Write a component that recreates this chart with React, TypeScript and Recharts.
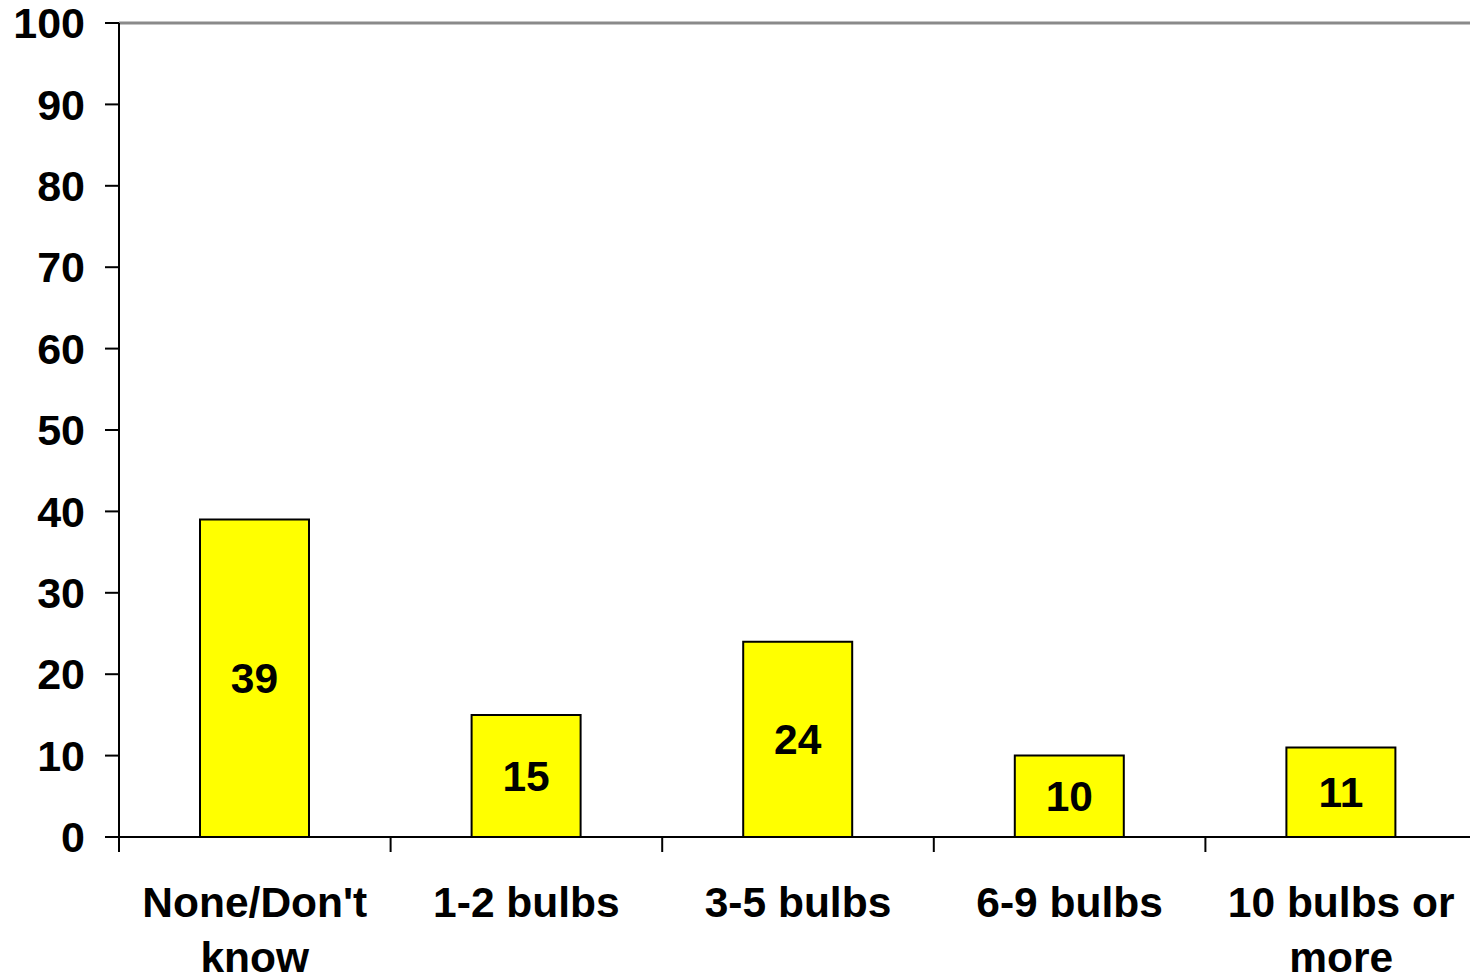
import { BarChart, Bar, XAxis, YAxis, ReferenceLine, LabelList } from 'recharts';

const categories = ["None/Don't know", '1-2 bulbs', '3-5 bulbs', '6-9 bulbs', '10 bulbs or more'];
const percents = [39, 15, 24, 10, 11];
const yTicks = [0, 10, 20, 30, 40, 50, 60, 70, 80, 90, 100];

const data = categories.map((name, i) => ({ name, value: percents[i] }));

const FONT = '"Liberation Sans", Arial, Helvetica, sans-serif';
const CHART_W = 1477;
const Y_AXIS_W = 119;
const HALF_BAND = (CHART_W - Y_AXIS_W) / categories.length / 2;

// greedy word wrap, roughly what the original chart does
const wrap = (text: string, max: number) => {
  const lines: string[] = [];
  let cur = '';
  for (const w of text.split(' ')) {
    const next = cur ? cur + ' ' + w : w;
    if (next.length > max && cur) {
      lines.push(cur);
      cur = w;
    } else {
      cur = next;
    }
  }
  if (cur) lines.push(cur);
  return lines;
};

// ticks sit between the categories, labels in the middle
const CategoryTick = (props: any) => {
  const { x, y, payload, index } = props;
  const lines = wrap(payload.value, 11);
  const isLast = index === categories.length - 1;
  return (
    <g>
      <line x1={x - HALF_BAND} y1={y} x2={x - HALF_BAND} y2={y + 15} stroke="#000" strokeWidth={2} />
      {isLast && <line x1={x + HALF_BAND} y1={y} x2={x + HALF_BAND} y2={y + 15} stroke="#000" strokeWidth={2} />}
      <text
        x={x}
        y={y + 50}
        textAnchor="middle"
        fontFamily={FONT}
        fontWeight="bold"
        fontSize={42.5}
        fill="#000"
      >
        {lines.map((l, i) => (
          <tspan key={i} x={x} dy={i === 0 ? '0.71em' : 55}>
            {l}
          </tspan>
        ))}
      </text>
    </g>
  );
};

const App = () => {
  return (
    <div style={{ position: 'absolute', left: 0, top: 0, width: 1470, height: 977, overflow: 'hidden', background: '#fff' }}>
      <BarChart
        width={CHART_W}
        height={977}
        data={data}
        margin={{ top: 23, right: 0, left: 0, bottom: 0 }}
        barSize={109}
      >
        <ReferenceLine y={100} stroke="#8a8a8a" strokeWidth={3} />
        <XAxis
          dataKey="name"
          height={140}
          stroke="#000"
          strokeWidth={2}
          tickLine={false}
          tickSize={0}
          tickMargin={0}
          tick={<CategoryTick />}
          interval={0}
        />
        <YAxis
          width={Y_AXIS_W}
          domain={[0, 100]}
          ticks={yTicks}
          interval={0}
          stroke="#000"
          strokeWidth={2}
          tickSize={14}
          tickMargin={20}
          tick={{ fill: '#000', fontFamily: FONT, fontWeight: 'bold', fontSize: 43 }}
        />
        <Bar dataKey="value" fill="#FFFF00" stroke="#000" strokeWidth={2} isAnimationActive={false}>
          <LabelList
            dataKey="value"
            position="center"
            fill="#000"
            fontFamily={FONT}
            fontWeight="bold"
            fontSize={42.5}
          />
        </Bar>
      </BarChart>
    </div>
  );
};

export default App;
